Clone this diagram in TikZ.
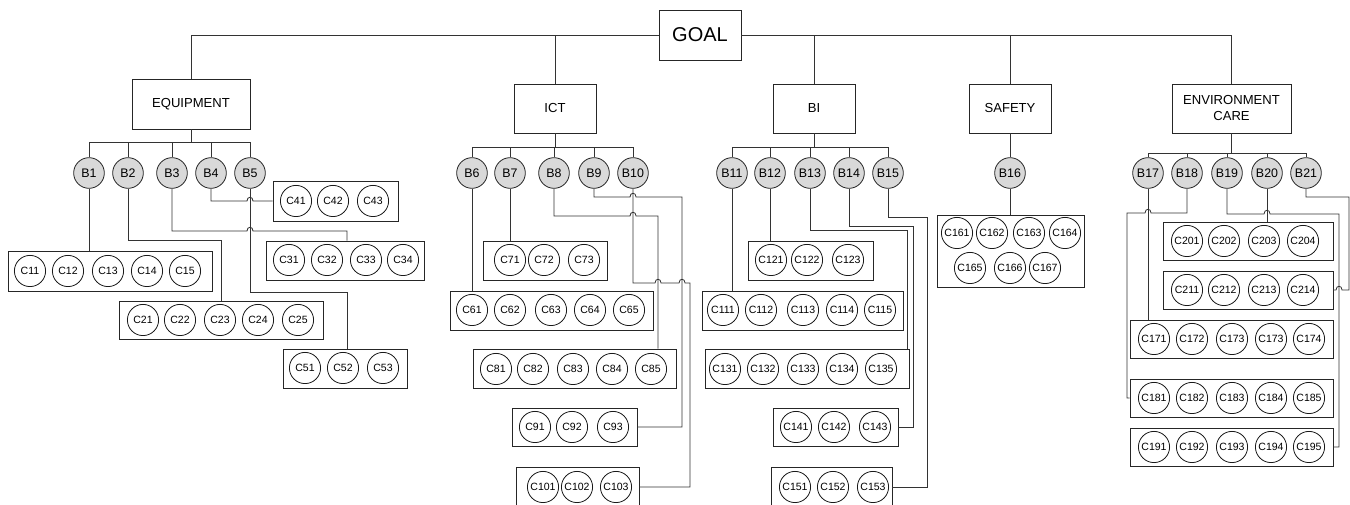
\documentclass[tikz,border=0pt]{standalone}
\usepackage{fontspec}
\setmainfont{Liberation Sans}
\newcommand\gbox[5]{\node[grp, minimum width={(#4-#2)*0.75pt}, minimum height={(#5-#3)*0.75pt}] (#1) at ({(#2+#4)/2},{(#3+#5)/2}) {};}
\newcommand\crow[3]{\foreach \xx/\lab [count=\i] in {#3}{\node[cnode] (#1-\i) at (\xx,#2) {\lab};}}
\newcommand\jr[2]{-- ({#1-3},#2) .. controls ({#1-3},{#2-5}) and ({#1+3},{#2-5}) .. ({#1+3},#2)}
\newcommand\jl[2]{-- ({#1+3},#2) .. controls ({#1+3},{#2-5}) and ({#1-3},{#2-5}) .. ({#1-3},#2)}
\begin{document}
\begin{tikzpicture}[x=0.75pt,y=-0.75pt,
  conn/.style={draw=black!80, line width=0.6pt},
  topbox/.style={draw=black!85, line width=0.6pt, rectangle, inner sep=0pt, align=center, fill=white},
  bnode/.style={circle, draw=black!85, line width=0.6pt, fill=black!15, minimum size=23pt, inner sep=0pt, font=\fontsize{9.3}{10}\selectfont},
  cnode/.style={circle, draw=black!90, line width=0.6pt, minimum size=23.4pt, inner sep=0pt, font=\fontsize{7.9}{8}\selectfont},
  grp/.style={draw=black!85, line width=0.6pt, rectangle, inner sep=0pt}]
\useasboundingbox (0,0) rectangle (1350,505);

% top level
\node[topbox, minimum width=61.5pt, minimum height=37.5pt, font=\fontsize{15}{18}\selectfont] (goal) at (700,35) {GOAL};
\node[topbox, minimum width=88.5pt, minimum height=37.5pt, font=\fontsize{9.8}{12}\selectfont] (equip) at (191,104) {EQUIPMENT};
\node[topbox, minimum width=61.5pt, minimum height=36.75pt, font=\fontsize{9.8}{12}\selectfont] (ict) at (555,108.5) {ICT};
\node[topbox, minimum width=61.5pt, minimum height=36.75pt, font=\fontsize{9.8}{12}\selectfont] (bi) at (814,108.5) {BI};
\node[topbox, minimum width=61.5pt, minimum height=36.75pt, font=\fontsize{9.8}{12}\selectfont] (safety) at (1010,108.5) {SAFETY};
\node[topbox, minimum width=89.25pt, minimum height=36.75pt, font=\fontsize{9.8}{12}\selectfont] (env) at (1231.5,108.5) {ENVIRONMENT\\CARE};

\draw[conn] (goal.west) -| (equip.north);
\draw[conn] (goal.west) -| (ict.north);
\draw[conn] (goal.east) -| (bi.north);
\draw[conn] (goal.east) -| (safety.north);
\draw[conn] (goal.east) -| (env.north);

% B nodes
\foreach \n/\xx in {1/89,2/128,3/172,4/211,5/250,6/472,7/510,8/554,9/594,10/633,11/732,12/770,13/810,14/849,15/888,16/1010,17/1148,18/1187,19/1227,20/1267,21/1306}
  \node[bnode] (b\n) at (\xx,173) {B\n};

\coordinate (eqbar) at (191,142);
\coordinate (ictbar) at (555,147);
\coordinate (bibar) at (814,147);
\coordinate (envbar) at (1231.5,153);
\draw[conn] (equip.south) -- (eqbar);
\draw[conn] (ict.south) -- (ictbar);
\draw[conn] (bi.south) -- (bibar);
\draw[conn] (env.south) -- (envbar);
\draw[conn] (safety.south) -- (b16.north);
\foreach \n in {1,...,5} \draw[conn] (b\n.north) |- (eqbar);
\foreach \n in {6,...,10} \draw[conn] (b\n.north) |- (ictbar);
\foreach \n in {11,...,15} \draw[conn] (b\n.north) |- (bibar);
\foreach \n in {17,...,21} \draw[conn] (b\n.north) |- (envbar);

% EQUIPMENT groups
\gbox{g1}{8}{251}{212}{291}
\crow{c1}{271}{30/C11,68/C12,108/C13,147/C14,185/C15}
\gbox{g2}{119}{301}{323}{339}
\crow{c2}{320}{143/C21,180/C22,220/C23,258/C24,298/C25}
\gbox{g3}{266}{241}{424}{280}
\crow{c3}{260}{289/C31,327/C32,366/C33,403/C34}
\gbox{g4}{273}{181}{398}{221}
\crow{c4}{201}{296/C41,333/C42,373/C43}
\gbox{g5}{283}{349}{407}{388}
\crow{c5}{368}{305/C51,343/C52,383/C53}

\draw[conn] (b1.south) -- (b1.south |- g1.north);
\draw[conn] (b2.south) -- (128,240) -- (221,240) -- (221,0 |- g2.north);
\draw[conn] (b3.south) -- (172,231) \jr{250}{231} -- (347,231) -- (347,0 |- g3.north);
\draw[conn] (b4.south) -- (211,201) \jr{250}{201} -- (g4.west);
\draw[conn] (b5.south) -- (250,292) -- (347,292) -- (347,0 |- g5.north);

% ICT groups
\gbox{g6}{450}{291}{653}{330}
\crow{c6}{310}{472/C61,510/C62,551/C63,590/C64,629/C65}
\gbox{g7}{483}{241}{607}{280}
\crow{c7}{260}{510/C71,544/C72,584/C73}
\gbox{g8}{473}{349}{676}{388}
\crow{c8}{369}{496/C81,533/C82,573/C83,612/C84,651/C85}
\gbox{g9}{512}{408}{637}{446}
\crow{c9}{427}{535/C91,572/C92,613/C93}
\gbox{g10}{516}{467}{639}{507}
\crow{c10}{487}{543/C101,577/C102,616/C103}

\draw[conn] (b6.south) -- (b6.south |- g6.north);
\draw[conn] (b7.south) -- (b7.south |- g7.north);
\draw[conn] (b8.south) -- (554,216) \jr{633}{216} -- (658,216) -- (658,0 |- g8.north);
\draw[conn] (b9.south) -- (594,197) \jr{633}{197} -- (682,197) -- (682,0 |- g9.east) -- (g9.east);
\draw[conn] (b10.south) -- (633,283) \jr{658}{283} \jr{682}{283} -- (690,283) -- (690,0 |- g10.east) -- (g10.east);

% BI groups
\gbox{g11}{702}{291}{903}{330}
\crow{c11}{310}{723/C111,761/C112,803/C113,842/C114,880/C115}
\gbox{g12}{748}{241}{873}{280}
\crow{c12}{260}{771/C121,807/C122,848/C123}
\gbox{g13}{705}{349}{909}{388}
\crow{c13}{369}{725/C131,763/C132,803/C133,842/C134,881/C135}
\gbox{g14}{773}{408}{898}{446}
\crow{c14}{427}{796/C141,834/C142,875/C143}
\gbox{g15}{771}{467}{892}{507}
\crow{c15}{487}{795/C151,833/C152,873/C153}

\draw[conn] (b11.south) -- (b11.south |- g11.north);
\draw[conn] (b12.south) -- (b12.south |- g12.north);
\draw[conn] (b13.south) -- (810,230) -- (907,230) -- (907,0 |- g13.north);
\draw[conn] (b14.south) -- (849,226) -- (913,226) -- (913,0 |- g14.east) -- (g14.east);
\draw[conn] (b15.south) -- (888,217) -- (927,217) -- (927,0 |- g15.east) -- (g15.east);

% SAFETY group
\gbox{g16}{937}{215}{1084}{287}
\crow{c16a}{233}{957/C161,992/C162,1029/C163,1065/C164}
\crow{c16b}{268}{970/C165,1010/C166,1045/C167}
\draw[conn] (b16.south) -- (b16.south |- g16.north);

% ENVIRONMENT groups
\gbox{g20}{1163}{222}{1333}{260}
\crow{c20}{241}{1187/C201,1224/C202,1264/C203,1303/C204}
\gbox{g21}{1163}{271}{1333}{309}
\crow{c21}{290}{1187/C211,1224/C212,1264/C213,1303/C214}
\gbox{g17}{1130}{320}{1333}{358}
\crow{c17}{339}{1154/C171,1192/C172,1232/C173,1271/C173,1309/C174}
\gbox{g18}{1130}{379}{1333}{417}
\crow{c18}{398}{1154/C181,1192/C182,1232/C183,1271/C184,1309/C185}
\gbox{g19}{1130}{428}{1333}{466}
\crow{c19}{447}{1154/C191,1192/C192,1232/C193,1271/C194,1309/C195}

\draw[conn] (b17.south) -- (b17.south |- g17.north);
\draw[conn] (b18.south) -- (1187,213) \jl{1148}{213} -- (1127,213) -- (1127,0 |- g18.west) -- (g18.west);
\draw[conn] (b19.south) -- (1227,214) \jr{1267}{214} -- (1339,214) -- (1339,0 |- g19.east) -- (g19.east);
\draw[conn] (b20.south) -- (b20.south |- g20.north);
\draw[conn] (b21.south) -- (1306,197) -- (1349,197) -- (1349,0 |- g21.east) \jl{1339}{290} -- (g21.east);
\end{tikzpicture}
\end{document}
